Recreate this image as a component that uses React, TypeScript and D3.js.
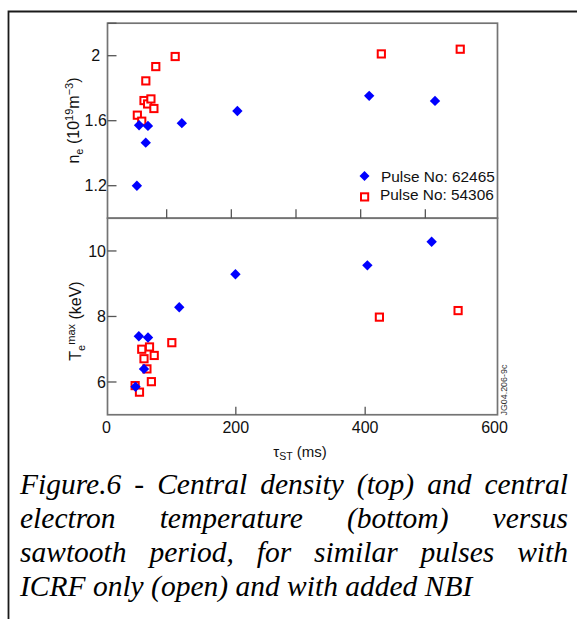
import React, { useMemo } from 'react';
import * as d3 from 'd3';

// ---- data ----
const neBlueTau = [47.0, 50.4, 64.1, 60.7, 116.5, 202.4, 406.2, 508.0];
const neBlue = [1.2, 1.572, 1.568, 1.465, 1.585, 1.66, 1.753, 1.722];
const neRedTau = [47.7, 54.5, 60.8, 58, 63.6, 68.7, 73.3, 76.2, 106.2, 425, 547];
const neRed = [1.634, 1.597, 1.845, 1.724, 1.703, 1.734, 1.675, 1.933, 1.995, 2.011, 2.04];
const teBlueTau = [44.9, 50, 64.2, 58, 112.5, 199.4, 403.4, 502.8];
const teBlue = [5.857, 7.395, 7.36, 6.4, 8.28, 9.29, 9.56, 10.28];
const teRedTau = [44.3, 51, 54.5, 58, 62.5, 66.5, 69.4, 73.8, 101, 422, 543.7];
const teRed = [5.89, 5.69, 7.0, 6.71, 6.4, 7.07, 6.01, 6.81, 7.2, 7.98, 8.18];

const xTicksTop = [100, 200, 300, 400, 500];
const xTicksBottom = [200, 400];
const xTickLabels = [0, 200, 400, 600];
const neTickMarks = [1.2, 1.6, 2.0, 2.2];
const neTickLabels = [1.2, 1.6, 2];
const teTickMarks = [6, 8, 10];
const teTickLabels = [6, 8, 10];

const legendLabels = ['Pulse No: 62465', 'Pulse No: 54306'];
const captionLines = [
  'Figure.6 - Central density (top) and central',
  'electron temperature (bottom) versus',
  'sawtooth period, for similar pulses with',
  'ICRF only (open) and with added NBI',
];

const BLUE = '#0000ff';
const RED = '#ff0000';
const FRAME = '#747474';
const TICK = '#555';
const SANS = '"Liberation Sans", Arial, Helvetica, sans-serif';
const SERIF_NAME = 'Liberation Serif';
const CAP_SIZE = 29.5;

const W = 577;
const H = 619;
const PL = 107.5;
const PR = 497.5;
const T1 = 23.2;
const B1 = 218.2;
const B2 = 414.75;

function diamondPath(cx: number, cy: number, r: number) {
  return `M${cx},${cy - r}L${cx + r},${cy}L${cx},${cy + r}L${cx - r},${cy}Z`;
}

export default function App() {
  const x = d3.scaleLinear().domain([0, 600]).range([106.5, 494.5]);
  const yNe = d3.scaleLinear().domain([1.0, 2.2]).range([B1, T1]);
  const yTe = d3.scaleLinear().domain([5, 11]).range([B2, B1]);

  const caption = useMemo(() => {
    const canvas = document.createElement('canvas');
    const ctx = canvas.getContext('2d')!;
    ctx.font = `italic ${CAP_SIZE}px "${SERIF_NAME}"`;
    const left = 20;
    const right = 568;
    return captionLines.map((line, li) => {
      const words = line.split(' ');
      const widths = words.map((w) => ctx.measureText(w).width);
      const spaceW = ctx.measureText(' ').width;
      const total = widths.reduce((a, b) => a + b, 0);
      const justify = li < captionLines.length - 1;
      const gap = justify ? (right - left - total) / (words.length - 1) : spaceW;
      let cx = left;
      return words.map((w, wi) => {
        const pos = cx;
        cx += widths[wi] + gap;
        return { w, x: pos };
      });
    });
  }, []);

  const baselines = [494, 528, 562, 596];

  return (
    <svg
      width={W}
      height={H}
      style={{ position: 'absolute', left: 0, top: 0, background: '#fff' }}
      fontFamily={SANS}
    >
      <rect x={0} y={0} width={W} height={H} fill="#fff" />
      {/* outer figure border */}
      <path d={`M8.5,${H}L8.5,11.5L${W},11.5`} fill="none" stroke="#1a1a1a" strokeWidth={1.8} />

      {/* panel frames */}
      <rect x={PL} y={T1} width={PR - PL} height={B1 - T1} fill="none" stroke={FRAME} strokeWidth={1.7} />
      <rect x={PL} y={B1} width={PR - PL} height={B2 - B1} fill="none" stroke={FRAME} strokeWidth={1.7} />

      {/* top panel ticks */}
      {neTickMarks.map((v) => (
        <line key={'nt' + v} x1={PL} x2={PL + 9} y1={yNe(v)} y2={yNe(v)} stroke={TICK} strokeWidth={1.3} />
      ))}
      {neTickLabels.map((v) => (
        <text key={'nl' + v} x={95.7} y={yNe(v) + 5.6} fontSize={16} textAnchor="middle" fill="#111">
          {String(v)}
        </text>
      ))}
      {xTicksTop.map((v) => (
        <line key={'xt' + v} x1={x(v) - 4.5} x2={x(v) - 4.5} y1={B1} y2={B1 - 9} stroke={TICK} strokeWidth={1.3} />
      ))}

      {/* bottom panel ticks */}
      {teTickMarks.map((v) => (
        <line key={'tt' + v} x1={PL} x2={PL + 9} y1={yTe(v)} y2={yTe(v)} stroke={TICK} strokeWidth={1.3} />
      ))}
      {teTickLabels.map((v) => (
        <text key={'tl' + v} x={106} y={yTe(v) + 5.6} fontSize={16} textAnchor="end" fill="#111">
          {String(v)}
        </text>
      ))}
      {xTicksBottom.map((v) => (
        <line key={'xb' + v} x1={x(v)} x2={x(v)} y1={B2} y2={B2 - 8} stroke={TICK} strokeWidth={1.3} />
      ))}
      {xTickLabels.map((v) => (
        <text key={'xl' + v} x={x(v)} y={433} fontSize={16} textAnchor="middle" fill="#111">
          {String(v)}
        </text>
      ))}

      {/* axis titles */}
      <text x={300} y={457} fontSize={15} textAnchor="middle" fill="#111">
        τ<tspan fontSize={10.5} dy={3}>ST</tspan>
        <tspan dy={-3}> (ms)</tspan>
      </text>
      <text transform="translate(78.5,120.5) rotate(-90)" fontSize={16} textAnchor="middle" fill="#111">
        n<tspan fontSize={11} dy={4}>e</tspan>
        <tspan dy={-4}> (10</tspan>
        <tspan fontSize={11} dy={-6}>19</tspan>
        <tspan dy={6}>m</tspan>
        <tspan fontSize={11} dy={-6}>−3</tspan>
        <tspan dy={6}>)</tspan>
      </text>
      <text transform="translate(81,321) rotate(-90)" fontSize={16} textAnchor="middle" fill="#111">
        T<tspan fontSize={11} dy={4}>e</tspan>
        <tspan fontSize={11} dy={-10}>max</tspan>
        <tspan dy={6}> (keV)</tspan>
      </text>

      {/* top panel data: red squares first, then blue diamonds */}
      {neRedTau.map((t, i) => (
        <rect key={'nr' + i} x={x(t) - 3.6} y={yNe(neRed[i]) - 3.6} width={7.2} height={7.2} fill="#fff" stroke={RED} strokeWidth={2} />
      ))}
      {neBlueTau.map((t, i) => (
        <path key={'nb' + i} d={diamondPath(x(t), yNe(neBlue[i]), 5.2)} fill={BLUE} />
      ))}

      {/* bottom panel data */}
      {teRedTau.map((t, i) => (
        <rect key={'tr' + i} x={x(t) - 3.6} y={yTe(teRed[i]) - 3.6} width={7.2} height={7.2} fill="#fff" stroke={RED} strokeWidth={2} />
      ))}
      {teBlueTau.map((t, i) => (
        <path key={'tb' + i} d={diamondPath(x(t), yTe(teBlue[i]), 5.2)} fill={BLUE} />
      ))}

      {/* legend */}
      <path d={diamondPath(364.5, 176, 5)} fill={BLUE} />
      <text x={381} y={181.7} fontSize={15.4} fill="#111">{legendLabels[0]}</text>
      <rect x={361} y={193.3} width={7.2} height={7.2} fill="#fff" stroke={RED} strokeWidth={2} />
      <text x={380} y={200} fontSize={15.4} fill="#111">{legendLabels[1]}</text>

      {/* figure id */}
      <text transform="translate(507,415.5) rotate(-90)" fontSize={8.9} fill="#333">JG04.206-9c</text>

      {/* caption */}
      {caption.map((words, li) =>
        words.map((wd, wi) => (
          <text
            key={'c' + li + '-' + wi}
            x={wd.x}
            y={baselines[li]}
            fontFamily={`"${SERIF_NAME}", serif`}
            fontStyle="italic"
            fontSize={CAP_SIZE}
            fill="#000"
          >
            {wd.w}
          </text>
        ))
      )}
    </svg>
  );
}
